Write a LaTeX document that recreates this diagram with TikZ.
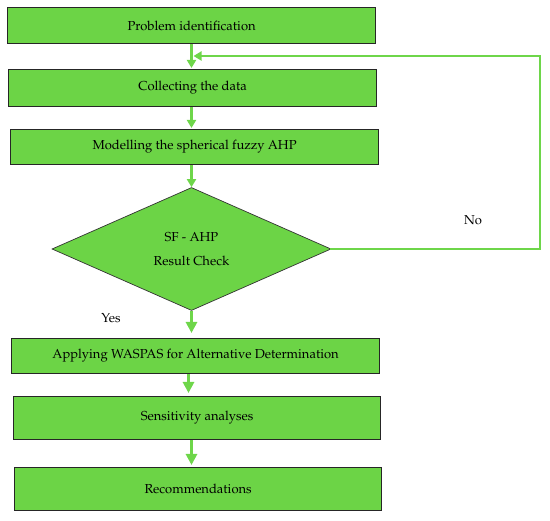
\documentclass[tikz,border=0pt]{standalone}
\usepackage[T1]{fontenc}
\usepackage{mathpazo}
\usetikzlibrary{shapes.geometric,arrows.meta}
\definecolor{boxgreen}{RGB}{108,212,70}
\definecolor{linegreen}{RGB}{110,214,74}
\begin{document}
\begin{tikzpicture}[x=1pt,y=-1pt,
  stepbox/.style={draw=black!85,line width=1.2pt,fill=boxgreen,anchor=north west,inner sep=0pt,font=\fontsize{13}{15}\selectfont},
  decision/.style={diamond,draw=black!80,line width=0.7pt,fill=boxgreen,inner sep=0pt,minimum width=279pt,minimum height=123pt,align=center,font=\fontsize{13}{15}\selectfont},
  flow/.style={draw=linegreen,line width=2.6pt,-{Triangle[width=9pt,length=8pt]}},
  bigflow/.style={draw=linegreen,line width=3.4pt,-{Triangle[width=11pt,length=11pt]}},
  lbl/.style={font=\fontsize{13}{15}\selectfont,inner sep=0pt}]
\useasboundingbox (0,0) rectangle (550,521);

\node[stepbox,minimum width=368pt,minimum height=36pt] (b1) at (7,7) {Problem identification};
\node[stepbox,minimum width=368pt,minimum height=37pt] (b2) at (8,69) {Collecting the data};
\node[stepbox,minimum width=368pt,minimum height=35pt] (b3) at (10,129) {Modelling the spherical fuzzy AHP};
\node[decision] (d) at (191.5,249) {SF - AHP\\[9pt]Result Check};
\node[stepbox,minimum width=368pt,minimum height=35pt] (b4) at (11,338) {Applying WASPAS for Alternative Determination};
\node[stepbox,minimum width=367pt,minimum height=43pt] (b5) at (13,396) {Sensitivity analyses};
\node[stepbox,minimum width=367pt,minimum height=43pt] (b6) at (14,467) {Recommendations};

\node[lbl] (yes) at (111,318) {Yes};
\node[lbl] (no) at (473,220) {No};

\coordinate (fbtop) at (540,56);
\coordinate (join) at (193.5,56);

\draw[flow,shorten >=1pt] (b1.south -| d.north) -- (b2.north -| d.north);
\draw[flow,shorten >=1pt] (b2.south -| d.north) -- (b3.north -| d.north);
\draw[flow,shorten >=0pt] (b3.south -| d.north) -- (d.north);
\draw[bigflow,shorten >=5pt] (d.south) -- (b4.north -| d.south);
\draw[bigflow,shorten >=3pt] ([xshift=-3pt]b4.south -| d.south) -- ([xshift=-3pt]b5.north -| d.south);
\draw[bigflow,shorten >=2pt] (b5.south -| d.south) -- (b6.north -| d.south);
\draw[flow,line cap=rect] (d.east) -| (fbtop) -- (join);
\end{tikzpicture}
\end{document}
